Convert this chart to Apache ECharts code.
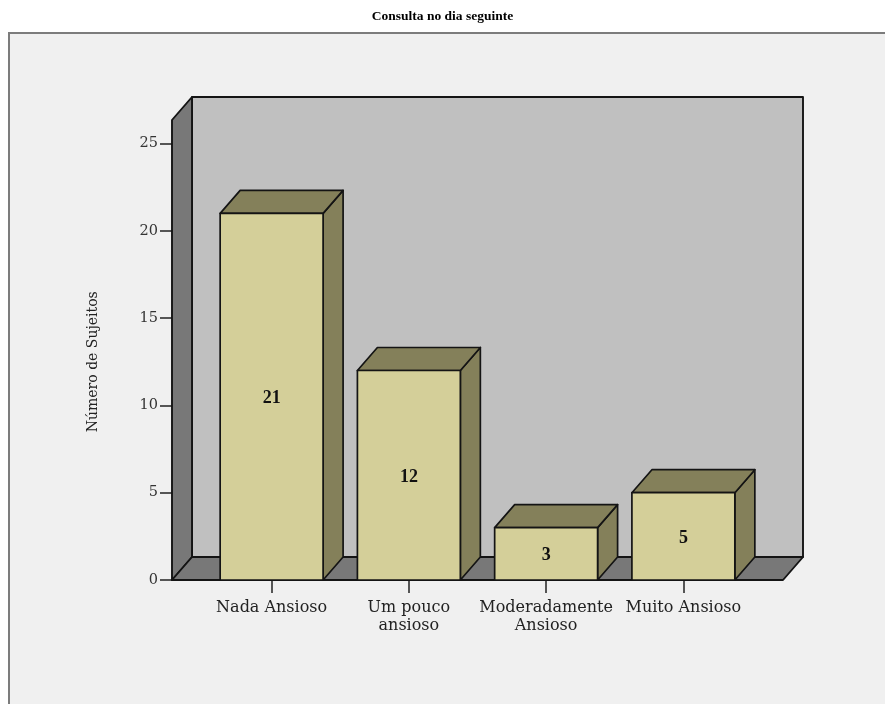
<!DOCTYPE html>
<html>
<head>
<meta charset="utf-8">
<script src="https://cdn.jsdelivr.net/npm/echarts@6/dist/echarts.min.js"></script>
<style>
html,body{margin:0;padding:0;background:#ffffff;}
#chart{width:885px;height:704px;}
</style>
</head>
<body>
<div id="chart"></div>
<script>
// ---- data ----
const titleText = 'Consulta no dia seguinte';
const categories = ['Nada Ansioso', 'Um pouco\nansioso', 'Moderadamente\nAnsioso', 'Muito Ansioso'];
const counts = [21, 12, 3, 5];
const yAxisName = 'Número de Sujeitos';
const yMin = 0;
const yMax = 25;
const yInterval = 5;

// ---- style constants ----
const DX = 20, DY = 23;          // 3D depth offset
const PAD = 31;                  // floor extension beyond category band
const TOP_PAD = 23.5;            // wall height above axis max
const BAR_RATIO = 0.75;
const FRONT = '#d4cf99';
const DARK = '#84805a';
const WALL_DARK = '#787878';
const WALL_BACK = '#c0c0c0';
const EDGE = '#141414';

const chart = echarts.init(document.getElementById('chart'), null, {renderer: 'canvas'});

function renderWalls(params, api) {
  const cs = params.coordSys;
  const x0 = cs.x - PAD, x1 = cs.x + cs.width + PAD;
  const yb = cs.y + cs.height, yt = cs.y - TOP_PAD;
  const st = {stroke: EDGE, lineWidth: 1.9, lineJoin: 'round'};
  return {
    type: 'group',
    children: [
      {type: 'rect', shape: {x: x0 + DX, y: yt - DY, width: x1 - x0, height: yb - yt},
        style: Object.assign({fill: WALL_BACK}, st)},
      {type: 'polygon', shape: {points: [[x0, yb], [x0, yt], [x0 + DX, yt - DY], [x0 + DX, yb - DY]]},
        style: Object.assign({fill: WALL_DARK}, st)},
      {type: 'polygon', shape: {points: [[x0, yb], [x0 + DX, yb - DY], [x1 + DX, yb - DY], [x1, yb]]},
        style: Object.assign({fill: WALL_DARK}, st)}
    ]
  };
}

function renderBar(params, api) {
  const idx = api.value(0), val = api.value(1);
  const top = api.coord([idx, val]);
  const base = api.coord([idx, 0]);
  const band = api.size([1, 0])[0];
  const w = band * BAR_RATIO;
  const xl = top[0] - w / 2, xr = top[0] + w / 2;
  const yt = top[1], yb = base[1];
  const st = {stroke: EDGE, lineWidth: 1.7, lineJoin: 'round'};
  return {
    type: 'group',
    children: [
      {type: 'polygon', shape: {points: [[xr, yt], [xr + DX, yt - DY], [xr + DX, yb - DY], [xr, yb]]},
        style: Object.assign({fill: DARK}, st)},
      {type: 'polygon', shape: {points: [[xl, yt], [xl + DX, yt - DY], [xr + DX, yt - DY], [xr, yt]]},
        style: Object.assign({fill: DARK}, st)},
      {type: 'rect', shape: {x: xl, y: yt, width: w, height: yb - yt},
        style: Object.assign({fill: FRONT}, st)},
      {type: 'text', style: {text: String(val), x: top[0], y: (yt + yb) / 2 + 2,
        align: 'center', verticalAlign: 'middle',
        font: 'bold 18px "Liberation Serif", serif', fill: '#111'}}
    ]
  };
}

const option = {
  animation: false,
  backgroundColor: '#ffffff',
  graphic: [{
    type: 'rect', z: -10, silent: true,
    shape: {x: 9, y: 33, width: 900, height: 700},
    style: {fill: '#f0f0f0', stroke: '#7c7c7c', lineWidth: 2}
  }],
  title: {
    text: titleText, left: 'center', top: 5,
    textStyle: {fontFamily: 'Liberation Serif', fontWeight: 'bold', fontSize: 13.5, color: '#000'}
  },
  grid: {left: 203, right: 133, top: 143.5, bottom: 124, containLabel: false},
  xAxis: {
    type: 'category', data: categories, boundaryGap: true,
    axisLine: {show: false},
    axisTick: {show: true, alignWithLabel: true, length: 13, lineStyle: {color: '#222', width: 1.5}},
    axisLabel: {interval: 0, margin: 19, fontFamily: 'DejaVu Serif', fontSize: 16, lineHeight: 18, color: '#222'},
    splitLine: {show: false}
  },
  yAxis: {
    type: 'value', min: yMin, max: yMax, interval: yInterval, offset: PAD,
    name: yAxisName, nameLocation: 'middle', nameGap: 72,
    nameTextStyle: {fontFamily: 'DejaVu Serif', fontSize: 14, color: '#222'},
    axisLine: {show: false},
    axisTick: {show: true, length: 12, lineStyle: {color: '#222', width: 1.5}},
    axisLabel: {margin: 14, fontFamily: 'DejaVu Serif', fontSize: 14.5, color: '#333'},
    splitLine: {show: false}
  },
  series: [
    {type: 'custom', name: 'walls', data: [[0, 0]], renderItem: renderWalls, z: 1, silent: true, clip: false},
    {type: 'custom', name: 'bars', data: counts.map((v, i) => [i, v]), encode: {x: 0, y: 1},
      renderItem: renderBar, z: 3, clip: false}
  ]
};
chart.setOption(option);
</script>
</body>
</html>
